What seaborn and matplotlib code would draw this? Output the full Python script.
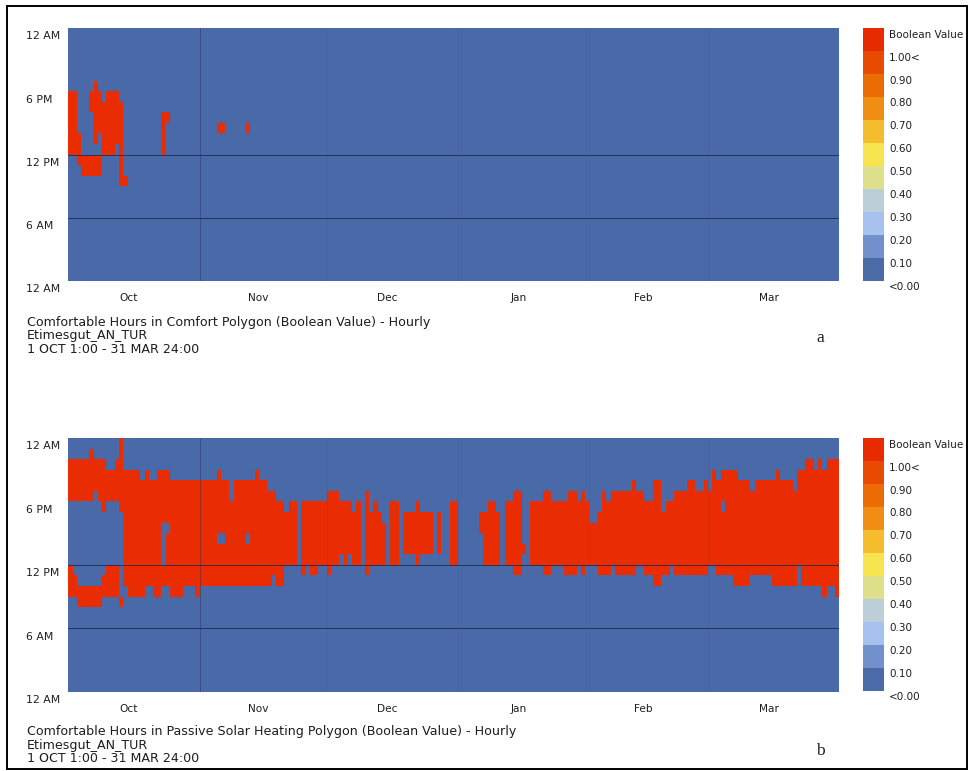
import numpy as np
import pandas as pd
import matplotlib
matplotlib.use("Agg")
import matplotlib.pyplot as plt
import seaborn as sns
from matplotlib.colors import ListedColormap
from matplotlib.transforms import ScaledTranslation
from matplotlib.patches import Rectangle

# ---------------- data ----------------
months = ["Oct", "Nov", "Dec", "Jan", "Feb", "Mar"]
month_days = [31, 30, 31, 31, 28, 31]
hour_labels = ["12 AM", "6 PM", "12 PM", "6 AM", "12 AM"]
legend_labels = ["Boolean Value", "1.00<", "0.90", "0.80", "0.70", "0.60",
                 "0.50", "0.40", "0.30", "0.20", "0.10", "<0.00"]
legend_colors = ["#e82a00", "#e84a02", "#eb6c05", "#ef8e12", "#f5bd2e",
                 "#f7e44f", "#dfe08c", "#bccfd8", "#a7c2ee", "#7290cc", "#4a6aa8"]
blue = "#4a69a8"
red = "#e92c02"

# comfortable hours, blocks: (first day, last day, start hour, end hour)
comfort_blocks = [
    (0, 1, 12, 18), (2, 2, 11, 14), (3, 4, 10, 12),
    (5, 5, 10, 12), (5, 5, 16, 18),
    (6, 6, 10, 12), (6, 6, 13, 19),
    (7, 7, 10, 12), (7, 7, 14, 18),
    (8, 8, 12, 17), (9, 9, 12, 18), (10, 10, 12, 18), (11, 11, 13, 18),
    (12, 12, 10, 17), (12, 13, 9, 10),
    (22, 22, 12, 16), (23, 23, 15, 16),
    (35, 36, 14, 15), (42, 42, 14, 15),
]

solar_blocks = [
    (0, 0, 18, 22), (0, 0, 9, 12), (1, 1, 18, 22), (1, 1, 9, 11),
    (2, 4, 18, 22), (2, 4, 8, 10), (5, 5, 18, 23), (5, 5, 8, 10),
    (6, 6, 19, 22), (6, 6, 8, 10), (7, 7, 18, 22), (7, 7, 8, 10),
    (8, 8, 17, 22), (8, 8, 9, 11), (9, 9, 18, 21), (9, 9, 9, 12),
    (10, 10, 18, 21), (10, 10, 9, 12), (11, 11, 18, 22), (11, 11, 9, 12),
    (12, 12, 17, 24), (12, 12, 8, 9), (13, 13, 10, 21), (14, 16, 9, 21),
    (17, 17, 9, 20), (18, 18, 10, 21), (19, 19, 10, 20), (20, 20, 9, 20),
    (21, 21, 9, 21), (22, 22, 16, 21), (22, 22, 10, 12),
    (23, 23, 16, 21), (23, 23, 10, 15),
    (24, 26, 9, 20), (27, 29, 10, 20), (30, 30, 9, 20), (31, 34, 10, 20),
    (35, 35, 15, 21), (35, 35, 10, 14), (36, 36, 15, 20), (36, 36, 10, 14),
    (37, 37, 10, 20), (38, 38, 10, 18), (39, 41, 10, 20),
    (42, 42, 15, 20), (42, 42, 10, 14), (43, 43, 10, 20), (44, 44, 10, 21),
    (45, 46, 10, 20), (47, 47, 10, 19), (48, 48, 11, 19), (49, 50, 10, 18),
    (51, 51, 12, 17), (52, 53, 12, 18), (55, 55, 11, 18), (56, 56, 12, 18),
    (57, 58, 11, 18), (59, 60, 12, 18), (61, 61, 11, 19), (62, 63, 12, 19),
    (64, 64, 13, 18), (65, 65, 12, 18), (66, 66, 13, 18), (67, 67, 12, 17),
    (68, 68, 12, 18), (70, 70, 11, 19), (71, 71, 12, 17), (72, 72, 12, 18),
    (73, 73, 12, 17), (74, 74, 12, 16), (76, 77, 12, 18), (79, 81, 13, 17),
    (82, 82, 12, 18), (83, 85, 13, 17), (87, 87, 13, 17), (90, 91, 12, 18),
    (97, 97, 15, 17), (98, 98, 12, 17), (99, 100, 12, 18), (101, 101, 12, 17),
    (103, 104, 12, 18), (105, 106, 11, 19), (107, 107, 13, 14),
    (109, 111, 12, 18), (112, 113, 11, 19), (114, 116, 12, 18),
    (117, 117, 11, 18), (118, 119, 11, 19), (120, 120, 12, 18),
    (121, 121, 11, 19), (122, 122, 12, 18), (123, 124, 12, 16),
    (125, 125, 11, 17), (126, 126, 11, 19), (127, 127, 11, 18),
    (128, 128, 12, 19), (129, 132, 11, 19), (133, 133, 11, 20),
    (134, 135, 12, 19), (136, 137, 11, 18), (138, 139, 10, 20),
    (140, 140, 11, 17), (141, 141, 11, 18), (142, 142, 12, 18),
    (143, 145, 11, 19), (146, 147, 11, 20), (148, 149, 11, 19),
    (150, 150, 11, 20), (151, 151, 12, 19), (152, 152, 12, 21),
    (153, 153, 11, 20), (154, 154, 18, 21), (154, 154, 11, 17),
    (155, 156, 11, 21), (157, 157, 10, 21), (158, 160, 10, 20),
    (161, 161, 11, 19), (162, 165, 11, 20), (166, 166, 10, 20),
    (167, 167, 10, 21), (168, 170, 10, 20), (171, 171, 10, 19),
    (172, 172, 12, 21), (173, 173, 10, 21), (174, 175, 10, 22),
    (176, 176, 10, 21), (177, 177, 10, 22), (178, 178, 9, 21),
    (179, 180, 10, 22), (181, 181, 9, 22),
]

title_lines_a = ["Comfortable Hours in Comfort Polygon (Boolean Value) - Hourly",
                 "Etimesgut_AN_TUR", "1 OCT 1:00 - 31 MAR 24:00"]
title_lines_b = ["Comfortable Hours in Passive Solar Heating Polygon (Boolean Value) - Hourly",
                 "Etimesgut_AN_TUR", "1 OCT 1:00 - 31 MAR 24:00"]
panel_tags = ["a", "b"]

# ---------------- build grids ----------------
n_days = sum(month_days)


def build(blocks):
    g = np.zeros((24, n_days))
    for d0, d1, h0, h1 in blocks:
        g[h0:h1, d0:d1 + 1] = 1
    return pd.DataFrame(g[::-1])  # row 0 = top = hour 23


grids = [build(comfort_blocks), build(solar_blocks)]

# ---------------- figure ----------------
W, H = 968, 771
fig = plt.figure(figsize=(W / 100, H / 100), dpi=100)
fig.patch.set_facecolor("white")
txt = "#1e1e1e"


def fx(px):
    return px / W


def fy(py):
    return 1 - py / H


heat_rects = [(68.3, 28.0, 839.3, 281.0), (68.3, 438.0, 839.3, 691.7)]
leg_rects = [(862.7, 28.3, 884.3, 280.5), (862.7, 438.3, 884.3, 690.5)]
title_y = [[322.5, 336, 349.5], [731.5, 745, 758.5]]
tag_y = [338, 751]

month_starts = np.concatenate([[0], np.cumsum(month_days)[:-1]])
month_centers = month_starts + np.array(month_days) / 2.0
cmap2 = ListedColormap([blue, red])

for i in range(2):
    x0, y0, x1, y1 = heat_rects[i]
    ax = fig.add_axes([fx(x0), fy(y1), fx(x1) - fx(x0), (y1 - y0) / H])
    sns.heatmap(grids[i], ax=ax, cmap=cmap2, vmin=0, vmax=1, cbar=False,
                xticklabels=False, yticklabels=False, linewidths=0)
    # guide lines
    ax.axhline(12, color="#1d2b4a", lw=0.7, alpha=0.85)
    ax.axhline(18, color="#1d2b4a", lw=0.7, alpha=0.85)
    for k, ms in enumerate(month_starts[1:]):
        ax.axvline(ms, color="#1d2b4a", lw=0.6, alpha=0.45 if k == 0 else 0.08)
    # y labels
    ax.set_yticks([0, 6, 12, 18, 24])
    ax.set_yticklabels(hour_labels, fontsize=7.8, color=txt, ha="left", va="top")
    ax.tick_params(axis="y", length=0, pad=30.5)
    for lab in ax.get_yticklabels():
        lab.set_transform(lab.get_transform() +
                          ScaledTranslation(0, -2.5 / 72, fig.dpi_scale_trans))
    # x labels
    ax.set_xticks(month_centers - 1.2)
    ax.set_xticklabels(months, fontsize=7.6, color=txt, rotation=0)
    ax.tick_params(axis="x", length=0, pad=8.5)

    # legend bar
    lx0, ly0, lx1, ly1 = leg_rects[i]
    lax = fig.add_axes([fx(lx0), fy(ly1), fx(lx1) - fx(lx0), (ly1 - ly0) / H])
    leg = pd.DataFrame(np.arange(len(legend_colors)).reshape(-1, 1))
    sns.heatmap(leg, ax=lax, cmap=ListedColormap(legend_colors), vmin=-0.5,
                vmax=len(legend_colors) - 0.5, cbar=False, xticklabels=False,
                yticklabels=False, linewidths=0)
    lax.yaxis.tick_right()
    lax.set_yticks(np.arange(len(legend_labels)))
    lax.set_yticklabels(legend_labels, fontsize=7.5, color=txt, ha="left", va="top")
    lax.tick_params(axis="y", length=0, pad=3.4, left=False, right=False,
                    labelleft=False, labelright=True)
    for lab in lax.get_yticklabels():
        lab.set_transform(lab.get_transform() +
                          ScaledTranslation(0, -1.0 / 72, fig.dpi_scale_trans))

    # titles
    lines = title_lines_a if i == 0 else title_lines_b
    for line, yy in zip(lines, title_y[i]):
        fig.text(fx(27), fy(yy), line, fontsize=9.1, color=txt, ha="left", va="center")
    fig.text(fx(820), fy(tag_y[i]), panel_tags[i], fontsize=12.5, color=txt,
             family="Liberation Serif", ha="center", va="center")

# outer frame
fig.patches.append(Rectangle((fx(6.5), fy(769)), fx(966.5) - fx(6.5), (769 - 5.5) / H,
                             transform=fig.transFigure, fill=False, lw=1.4,
                             ec="black"))

fig.savefig("out.png", dpi=100, facecolor="white")
